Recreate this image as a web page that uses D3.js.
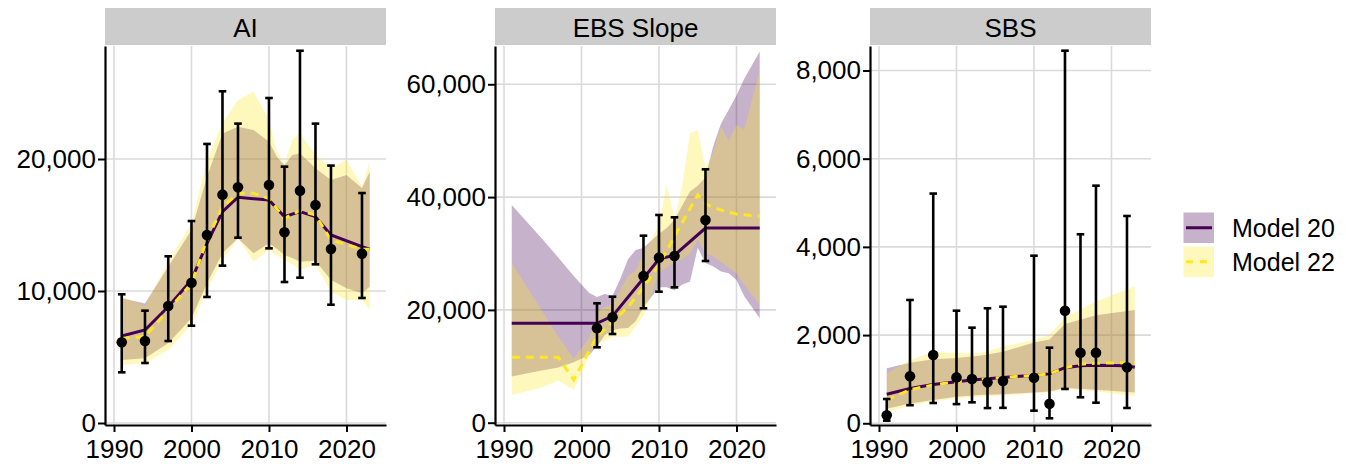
<!DOCTYPE html>
<html><head><meta charset="utf-8">
<script src="https://cdn.jsdelivr.net/npm/d3@7"></script>
<style>
body{margin:0;background:#fff}
svg{display:block}
text{font-family:"Liberation Sans",Arial,Helvetica,sans-serif;fill:#000}
</style>
</head><body>
<svg id="chart" width="1346" height="467"></svg>
<script>
// ---------------- DATA ----------------
const facetNames = ["AI", "EBS Slope", "SBS"];
const seriesNames = ["Model 20", "Model 22"];
const xTicks = [1990, 2000, 2010, 2020];
const yTicksAI = [0, 10000, 20000];
const yTicksEBS = [0, 20000, 40000, 60000];
const yTicksSBS = [0, 2000, 4000, 6000, 8000];

// AI observations
const aiObsYear = [1991,1994,1997,2000,2002,2004,2006,2010,2012,2014,2016,2018,2022];
const aiObsVal  = [6110,6210,8860,10630,14240,17300,17850,18030,14450,17600,16520,13180,12830];
const aiObsLo   = [3840,4545,6210,7370,9545,11920,14040,13230,10680,11010,12020,8960,9470];
const aiObsHi   = [9750,8510,12630,15300,21140,25130,22680,24620,19420,28200,22680,19500,17420];
// AI model estimates
const aiM20Year = [1991,1994,1997,2000,2002,2004,2006,2010,2012,2014,2016,2018,2022,2023];
const aiM20Val  = [6590,7045,8810,10830,13610,16010,17100,16890,15630,16010,15630,14240,13360,13160];
const aiM22Year = [1991,1994,1997,2000,2002,2004,2006,2008,2010,2012,2014,2016,2018,2022,2023];
const aiM22Val  = [6410,6540,8560,10580,13860,16390,17400,17400,17000,15500,16100,15750,13860,13160,13160];
const aiCIYear  = [1991,1994,1997,2000,2002,2004,2006,2008,2010,2011,2012,2013,2014,2016,2018,2020,2022,2023];
const aiM20Lo   = [4770,4900,6040,7930,10580,12850,14000,12850,13610,13200,12730,12500,12220,12300,10830,10200,9820,10330];
const aiM20Hi   = [9445,9050,11840,14620,18660,21940,22450,22200,21310,20180,19500,20300,20430,19290,18410,18790,17800,19040];
const aiM22Lo   = [4390,4520,5530,7420,10080,12340,14000,12220,13100,12700,12340,12000,11600,11980,9950,9320,9320,8560];
const aiM22Hi   = [9570,8900,12220,15120,19920,22700,24470,25100,23000,20560,19600,21440,21950,20300,19290,19920,17900,19800];

// EBS Slope observations
const ebsObsYear = [2002,2004,2008,2010,2012,2016];
const ebsObsVal  = [16740,18690,26010,29260,29560,35940];
const ebsObsLo   = [13370,15730,20280,23230,24000,28670];
const ebsObsHi   = [21170,22340,33160,36830,36420,44930];
// EBS Slope model estimates
const ebsM20Year = [1991,2002,2004,2008,2010,2012,2016,2023];
const ebsM20Val  = [17620,17620,18900,25600,29000,29700,34500,34500];
const ebsM22Year = [1991,1997,1999,2002,2004,2006,2008,2010,2012,2013,2015,2016,2018,2020,2023];
const ebsM22Val  = [11600,11600,7600,15300,17900,20500,24000,28000,33000,35500,40400,38800,37700,37000,36600];
const ebsCIYear  = [1991,1995,1997,1999,2001,2002,2003,2004,2005,2006,2007,2008,2010,2011,2012,2013,2014,2015,2016,2017,2018,2019,2020,2021,2023];
const ebsM20Lo   = [8200,9300,9800,10700,12000,13500,15500,16400,16700,16800,18000,20500,24000,24000,23500,24500,25000,31000,28300,27700,26800,26500,25300,22400,18500];
const ebsM20Hi   = [38600,32500,29300,26000,23000,22300,22800,22500,25500,29000,30600,31000,33500,34500,36000,38500,41000,42000,43500,49000,53000,55500,58000,61000,65800];
const ebsM22Lo   = [4900,6300,7500,5800,12000,14000,14500,15250,15250,15300,17000,19000,26500,27500,28500,29000,30000,32500,30000,29500,28500,27500,26500,24500,20900];
const ebsM22Hi   = [28300,19600,15300,11400,15000,19800,20500,21000,23500,26000,27000,30000,35000,42300,36000,42000,51300,51900,45100,48000,52500,50000,52800,52000,62500];

// SBS observations
const sbsObsYear = [1991,1994,1997,2000,2002,2004,2006,2010,2012,2014,2016,2018,2022];
const sbsObsVal  = [180,1065,1549,1040,1004,930,959,1034,444,2553,1601,1601,1270];
const sbsObsLo   = [60,410,460,435,475,345,350,286,113,778,590,467,347];
const sbsObsHi   = [551,2796,5209,2553,2168,2608,2644,3800,1714,8449,4286,5388,4701];
// SBS model estimates
const sbsM20Year = [1991,1994,1997,2000,2002,2004,2006,2010,2012,2014,2016,2018,2022,2023];
const sbsM20Val  = [660,790,880,940,980,1010,1040,1090,1120,1260,1305,1315,1305,1270];
const sbsM22Year = [1991,1994,1997,2000,2002,2004,2006,2010,2012,2014,2016,2018,2022,2023];
const sbsM22Val  = [530,760,870,940,980,1010,1040,1090,1120,1260,1340,1360,1375,1370];
const sbsCIYear  = [1991,1994,1997,2000,2003,2006,2010,2012,2014,2018,2023];
const sbsM20Lo   = [330,450,530,600,640,660,700,720,800,760,700];
const sbsM20Hi   = [1250,1370,1450,1480,1530,1620,1830,1900,2250,2450,2570];
const sbsM22Lo   = [260,400,500,560,600,630,680,700,780,720,620];
const sbsM22Hi   = [1130,1430,1620,1590,1590,1740,1890,2000,2400,2760,3100];

// ---------------- LAYOUT / STYLE ----------------
const colM20 = "#440154", colM22 = "#FDE725", ribbonAlpha = 0.3;
const panelLeft = [105, 495, 870];
const panelW = 281, panelTop = 46, panelBottom = 425;
const stripTop = 8;
const xDomain = [1988.84, 2025.1];
const yDomains = [[-152, 28560], [-408, 66790], [-39, 8555]];
const fontSize = 26;
const fontFam = '"Liberation Sans",Arial,Helvetica,sans-serif';

const zipPts = (ys, vs) => ys.map((y, i) => ({year: y, v: vs[i]}));
const zipCI = (ys, lo, hi) => ys.map((y, i) => ({year: y, lo: lo[i], hi: hi[i]}));
const zipObs = (ys, v, lo, hi) => ys.map((y, i) => ({year: y, v: v[i], lo: lo[i], hi: hi[i]}));

const facets = [
  {name: facetNames[0], ticks: yTicksAI,
   obs: zipObs(aiObsYear, aiObsVal, aiObsLo, aiObsHi),
   m20: zipPts(aiM20Year, aiM20Val), m22: zipPts(aiM22Year, aiM22Val),
   ci20: zipCI(aiCIYear, aiM20Lo, aiM20Hi), ci22: zipCI(aiCIYear, aiM22Lo, aiM22Hi)},
  {name: facetNames[1], ticks: yTicksEBS,
   obs: zipObs(ebsObsYear, ebsObsVal, ebsObsLo, ebsObsHi),
   m20: zipPts(ebsM20Year, ebsM20Val), m22: zipPts(ebsM22Year, ebsM22Val),
   ci20: zipCI(ebsCIYear, ebsM20Lo, ebsM20Hi), ci22: zipCI(ebsCIYear, ebsM22Lo, ebsM22Hi)},
  {name: facetNames[2], ticks: yTicksSBS,
   obs: zipObs(sbsObsYear, sbsObsVal, sbsObsLo, sbsObsHi),
   m20: zipPts(sbsM20Year, sbsM20Val), m22: zipPts(sbsM22Year, sbsM22Val),
   ci20: zipCI(sbsCIYear, sbsM20Lo, sbsM20Hi), ci22: zipCI(sbsCIYear, sbsM22Lo, sbsM22Hi)}
];

const svg = d3.select("#chart");
const fmt = d3.format(",");

facets.forEach((f, i) => {
  const x0 = panelLeft[i];
  const x = d3.scaleLinear().domain(xDomain).range([x0, x0 + panelW]);
  const y = d3.scaleLinear().domain(yDomains[i]).range([panelBottom, panelTop]);
  const g = svg.append("g");

  // strip
  g.append("rect").attr("x", x0).attr("y", stripTop).attr("width", panelW)
    .attr("height", panelTop - stripTop - 1).attr("fill", "#cccccc");
  g.append("text").attr("x", x0 + panelW / 2).attr("y", 36.5).attr("text-anchor", "middle")
    .style("font-size", fontSize + "px").text(f.name);

  // grid
  const grid = g.append("g").attr("stroke", "#dadada").attr("stroke-width", 1.6);
  grid.selectAll("line.gx").data(xTicks).join("line")
    .attr("x1", d => x(d)).attr("x2", d => x(d)).attr("y1", panelTop).attr("y2", panelBottom);
  grid.selectAll("line.gy").data(f.ticks).join("line")
    .attr("x1", x0).attr("x2", x0 + panelW).attr("y1", d => y(d)).attr("y2", d => y(d));

  // clip
  const cid = "clip" + i;
  svg.append("clipPath").attr("id", cid).append("rect")
    .attr("x", x0).attr("y", panelTop).attr("width", panelW).attr("height", panelBottom - panelTop);
  const pg = g.append("g").attr("clip-path", `url(#${cid})`);

  const area = d3.area().x(d => x(d.year)).y0(d => y(d.lo)).y1(d => y(d.hi));
  pg.append("path").datum(f.ci20).attr("d", area).attr("fill", colM20).attr("fill-opacity", ribbonAlpha);
  pg.append("path").datum(f.ci22).attr("d", area).attr("fill", colM22).attr("fill-opacity", ribbonAlpha);

  const line = d3.line().x(d => x(d.year)).y(d => y(d.v));
  pg.append("path").datum(f.m20).attr("d", line).attr("fill", "none")
    .attr("stroke", colM20).attr("stroke-width", 3);
  pg.append("path").datum(f.m22).attr("d", line).attr("fill", "none")
    .attr("stroke", colM22).attr("stroke-width", 3).attr("stroke-dasharray", "8,6");

  // error bars
  const eb = pg.append("g").attr("stroke", "#000").attr("stroke-width", 2.6);
  f.obs.forEach(o => {
    const xx = x(o.year);
    eb.append("line").attr("x1", xx).attr("x2", xx).attr("y1", y(o.lo)).attr("y2", y(o.hi));
    eb.append("line").attr("x1", xx - 3.8).attr("x2", xx + 3.8).attr("y1", y(o.lo)).attr("y2", y(o.lo));
    eb.append("line").attr("x1", xx - 3.8).attr("x2", xx + 3.8).attr("y1", y(o.hi)).attr("y2", y(o.hi));
  });
  pg.selectAll("circle").data(f.obs).join("circle")
    .attr("cx", d => x(d.year)).attr("cy", d => y(d.v)).attr("r", 5.3).attr("fill", "#000");

  // axes
  const ax = g.append("g").attr("transform", `translate(0,${panelBottom})`)
    .call(d3.axisBottom(x).tickValues(xTicks).tickFormat(d3.format("d")).tickSize(7).tickPadding(8).tickSizeOuter(0));
  const ay = g.append("g").attr("transform", `translate(${x0},0)`)
    .call(d3.axisLeft(y).tickValues(f.ticks).tickFormat(fmt).tickSize(7).tickPadding(2).tickSizeOuter(0));
  [ax, ay].forEach(a => {
    a.select(".domain").attr("stroke", "#000").attr("stroke-width", 2.2);
    a.selectAll(".tick line").attr("stroke", "#000").attr("stroke-width", 2);
    a.selectAll(".tick text").style("font-size", fontSize + "px")
      .style("font-family", fontFam).attr("fill", "#000");
  });
});

// legend
const lg = svg.append("g");
const legendItems = [
  {name: seriesNames[0], col: colM20, dash: null},
  {name: seriesNames[1], col: colM22, dash: "7,7"}
];
legendItems.forEach((it, k) => {
  const ky = 212.5 + k * 34;
  lg.append("rect").attr("x", 1183.5).attr("y", ky).attr("width", 30.5).attr("height", 30.5)
    .attr("fill", it.col).attr("fill-opacity", ribbonAlpha);
  const ln = lg.append("line").attr("x1", 1186).attr("x2", 1212)
    .attr("y1", ky + 15.25).attr("y2", ky + 15.25).attr("stroke", it.col).attr("stroke-width", 3);
  if (it.dash) ln.attr("stroke-dasharray", it.dash);
  lg.append("text").attr("x", 1232).attr("y", ky + 15.25).attr("dy", "0.35em")
    .style("font-size", "25px").text(it.name);
});
</script>
</body></html>
